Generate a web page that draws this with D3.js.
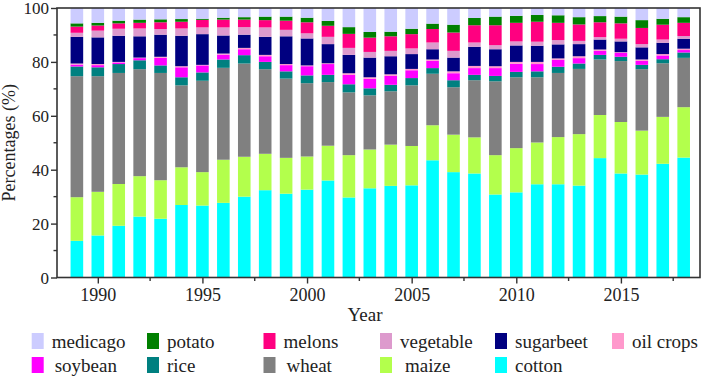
<!DOCTYPE html>
<html>
<head>
<meta charset="utf-8">
<script src="https://cdn.jsdelivr.net/npm/d3@7"></script>
<style>
  html, body { margin: 0; padding: 0; background: #fff; }
  svg { display: block; }
  text { font-family: "Liberation Serif", "Times New Roman", serif; fill: #222; }
</style>
</head>
<body>
<svg id="chart" width="706" height="376"></svg>
<script>
const years = [1989,1990,1991,1992,1993,1994,1995,1996,1997,1998,1999,2000,2001,2002,2003,2004,2005,2006,2007,2008,2009,2010,2011,2012,2013,2014,2015,2016,2017,2018];

const cotton    = [13.6,15.6,19.2,22.6,21.8,26.9,26.7,27.7,30.0,32.4,31.1,32.6,36.0,29.7,33.1,34.0,34.2,43.5,39.1,38.6,30.8,31.6,34.6,34.6,34.1,44.3,38.6,38.2,42.2,44.5];
const maize     = [16.2,16.2,15.5,15.0,14.3,14.0,12.4,16.0,14.8,13.5,13.3,12.3,12.9,15.7,14.4,15.3,14.6,13.0,13.9,13.4,14.6,16.4,15.5,17.5,19.1,16.0,19.1,16.3,17.4,18.7];
const wheat     = [44.9,42.9,41.2,39.7,39.8,30.4,33.9,34.1,34.6,31.4,29.4,27.2,23.6,23.3,20.1,19.8,22.5,19.1,17.6,21.2,27.4,26.3,24.2,23.8,24.2,20.6,22.6,22.8,19.9,18.3];
const rice      = [3.6,3.3,3.3,3.3,2.8,3.0,3.1,3.1,3.1,2.7,2.7,2.9,2.7,3.0,2.6,2.4,2.7,2.1,2.6,2.0,2.0,2.0,2.2,2.3,2.0,1.7,1.6,1.6,1.5,2.0];
const soybean   = [0.7,0.8,0.6,0.8,2.8,3.7,2.6,1.8,2.2,2.1,2.3,3.4,4.0,3.5,3.5,3.3,2.9,2.7,2.6,2.5,2.9,3.0,2.7,2.6,2.0,1.5,1.5,1.5,1.4,0.9];
const oilCrops  = [0.4,0.4,0.2,0.2,0.4,0.4,0.2,0.4,0.5,0.5,0.4,0.3,0.3,0.6,0.6,0.6,0.5,0.5,0.7,0.8,0.7,0.7,0.8,0.5,0.7,0.5,0.2,0.5,0.5,0.5];
const sugarbeet = [9.9,9.9,9.7,7.9,8.2,11.3,11.4,6.7,4.9,6.7,10.3,10.0,7.1,6.8,7.3,6.7,5.5,3.8,5.1,7.1,6.3,6.1,6.0,5.2,4.5,3.7,4.0,4.5,4.2,3.7];
const vegetable = [1.5,2.5,2.6,2.9,2.1,2.7,2.5,3.0,2.8,3.5,2.4,1.9,2.7,2.6,2.1,2.0,2.1,2.5,2.5,1.6,1.5,1.5,1.5,1.6,1.2,0.9,1.0,1.2,1.2,1.0];
const melons    = [2.3,1.9,2.0,2.1,2.5,2.5,2.8,2.9,2.8,2.7,3.4,4.1,4.1,5.2,5.3,5.4,5.3,5.0,6.8,6.4,7.4,6.9,7.4,6.4,6.1,5.5,5.7,6.0,5.5,4.9];
const potato    = [1.2,1.0,1.0,1.2,1.1,1.0,0.4,0.7,0.9,1.3,1.5,1.7,1.8,2.5,2.1,1.7,2.0,2.0,2.9,2.7,3.2,2.6,2.5,2.8,2.7,2.3,2.5,2.9,2.2,2.1];
const medicago  = [5.7,5.5,4.7,4.3,4.2,4.1,4.1,3.6,3.4,3.2,3.2,3.6,4.8,7.1,8.9,8.8,7.7,5.8,6.2,3.7,3.2,2.9,2.6,2.7,3.4,3.0,3.2,4.5,4.0,3.4];

const cropNames = ["cotton","maize","wheat","rice","soybean","oil crops","sugarbeet","vegetable","melons","potato","medicago"];
const cropSeries = [cotton, maize, wheat, rice, soybean, oilCrops, sugarbeet, vegetable, melons, potato, medicago];
const cropColors = ["#00FFFF","#B3FF4C","#808080","#008080","#FF00FF","#FF99CC","#000080","#DD9ACD","#FF0080","#008000","#CCCCFF"];

const majorYearTicks = [1990,1995,2000,2005,2010,2015];
const minorYearTicks = [1992.5,1997.5,2002.5,2007.5,2012.5,2017.5];
const majorPctTicks = [0,20,40,60,80,100];
const minorPctTicks = [10,30,50,70,90];
const legendOrder = ["medicago","potato","melons","vegetable","sugarbeet","oil crops","soybean","rice","wheat","maize","cotton"];

// build table
const table = years.map((yr, i) => {
  const row = { year: yr };
  cropNames.forEach((n, k) => { row[n] = cropSeries[k][i]; });
  return row;
});
const colorOf = d3.scaleOrdinal().domain(cropNames).range(cropColors);

const svg = d3.select("#chart");
const plotL = 57, plotR = 700, plotT = 8, plotB = 277.5;
const x = d3.scaleLinear().domain([1988.05, 2018.78]).range([plotL, plotR]);
const y = d3.scaleLinear().domain([0, 100]).range([plotB, plotT]);
const barW = 12.6;

const stacked = d3.stack().keys(cropNames)(table);

svg.append("g").selectAll("g").data(stacked).join("g")
  .attr("fill", d => colorOf(d.key))
  .selectAll("rect").data(d => d).join("rect")
  .attr("x", d => x(d.data.year) - barW / 2)
  .attr("width", barW)
  .attr("y", d => y(Math.min(100, d[1])))
  .attr("height", d => Math.max(0, y(d[0]) - y(Math.min(100, d[1]))));

// frame
const axisColor = "#333";
svg.append("rect").attr("x", plotL).attr("y", plotT).attr("width", plotR - plotL).attr("height", plotB - plotT)
  .attr("fill", "none").attr("stroke", axisColor).attr("stroke-width", 1.6);

// x axis
const gx = svg.append("g").attr("transform", `translate(0,${plotB})`);
gx.call(d3.axisBottom(x).tickValues(majorYearTicks).tickSize(6).tickFormat(d3.format("d")))
  .call(g => g.select(".domain").remove())
  .call(g => g.selectAll("line").attr("stroke", axisColor).attr("stroke-width", 1.4))
  .call(g => g.selectAll("text").attr("y", 23).attr("dy", null).attr("font-size", 18)
     .style("font-family", "Liberation Serif").attr("fill", "#222"));
gx.selectAll(".minor").data(minorYearTicks).join("line").attr("class", "minor")
  .attr("x1", d => x(d)).attr("x2", d => x(d)).attr("y1", 0).attr("y2", 3.5)
  .attr("stroke", axisColor).attr("stroke-width", 1.4);

// y axis
const gy = svg.append("g").attr("transform", `translate(${plotL},0)`);
gy.call(d3.axisLeft(y).tickValues(majorPctTicks).tickSize(6).tickPadding(2))
  .call(g => g.select(".domain").remove())
  .call(g => g.selectAll("line").attr("stroke", axisColor).attr("stroke-width", 1.4))
  .call(g => g.selectAll("text").attr("font-size", 17).attr("dy", "0.34em")
     .style("font-family", "Liberation Serif").attr("fill", "#222"));
gy.selectAll(".minor").data(minorPctTicks).join("line").attr("class", "minor")
  .attr("x1", 0).attr("x2", -3.5).attr("y1", d => y(d)).attr("y2", d => y(d))
  .attr("stroke", axisColor).attr("stroke-width", 1.4);

// axis titles
svg.append("text").attr("x", 365).attr("y", 321).attr("text-anchor", "middle")
  .attr("font-size", 19).text("Year");
svg.append("text").attr("transform", `translate(15,${(plotT + plotB) / 2}) rotate(-90)`)
  .attr("text-anchor", "middle").attr("font-size", 18).text("Percentages (%)");

// legend
const legCols = [31.7, 147, 263.5, 380, 495, 612];
const legRows = [333, 357];
const legDx = { "soybean": 3, "wheat": 3, "maize": 5 };
const leg = svg.append("g").selectAll("g").data(legendOrder).join("g")
  .attr("transform", (d, i) => `translate(${legCols[i % 6]},${legRows[Math.floor(i / 6)]})`);
leg.append("rect").attr("width", 12).attr("height", 16).attr("fill", d => colorOf(d));
leg.append("text").attr("x", d => 20 + (legDx[d] || 0)).attr("y", 14.5)
  .attr("font-size", 19).text(d => d);
</script>
</body>
</html>
